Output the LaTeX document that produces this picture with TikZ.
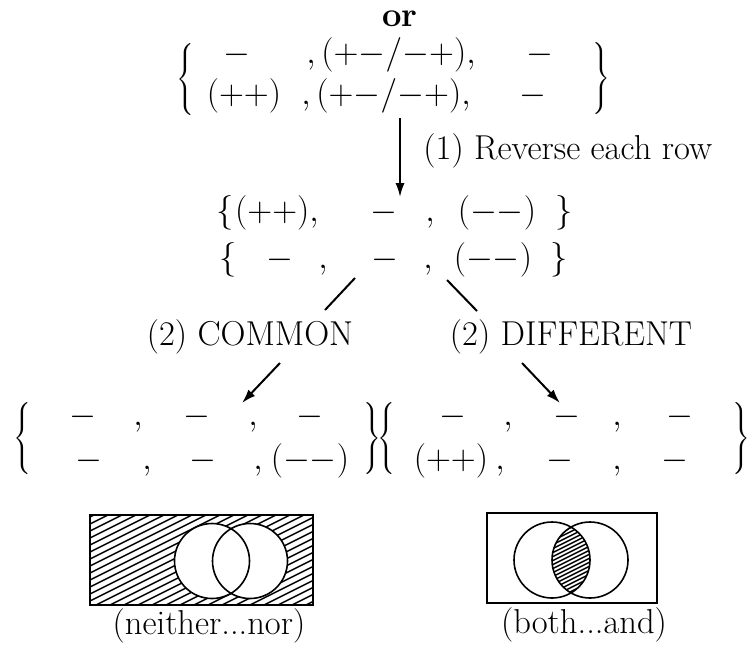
\documentclass[tikz,border=0pt]{standalone}
\usetikzlibrary{arrows.meta}

\begin{document}
\begin{tikzpicture}[
    x=0.5pt, y=-0.5pt,
    >={Latex[length=7pt,width=4.6pt]},
    font=\fontsize{17.28}{20}\selectfont,
    sym/.style={anchor=base,inner sep=0pt},
    brc/.style={inner sep=0pt},
    lbl/.style={inner sep=0pt},
    conn/.style={line width=1pt},
    venn/.style={line width=0.8pt},
    hatch/.style={line width=0.75pt},
]
\useasboundingbox (0,0) rectangle (747,648);

% ---- the input set
\node[lbl,font=\fontsize{17.28}{20}\selectfont\bfseries] (or) at (400,19) {or};
\node[brc] (top-l) at (187,79) {$\left\{\vrule height 1.35em depth 0.85em width 0pt\right.$};
\node[brc] (top-r) at (600,78) {$\left.\vrule height 1.35em depth 0.85em width 0pt\right\}$};
\foreach \x/\t [count=\i] in {237/{-}, 391/{,({+}{-}/{-}{+}),}, 540/{-}}
    \node[sym] (t1-\i) at (\x,63) {$\t$};
\foreach \x/\t [count=\i] in {244/{(++)}, 386/{,({+}{-}/{-}{+}),}, 533/{-}}
    \node[sym] (t2-\i) at (\x,104) {$\t$};

% ---- step 1
\coordinate (s1a) at (400,118);
\coordinate (s1b) at (400,197);
\draw[conn,->] (s1a) -- (s1b);
\node[lbl,anchor=west] (rev) at (423,151) {(1) Reverse each row};

% ---- reversed rows
\foreach \x/\t [count=\i] in {225/{\{}, 277/{(++),}, 384/{-}, 430/{,}, 497/{(--)}, 564/{\}}}
    \node[sym] (m1-\i) at (\x,221) {$\t$};
\foreach \x/\t [count=\i] in {228/{\{}, 280/{-}, 323/{,}, 385/{-}, 428/{,}, 493/{(--)}, 559/{\}}}
    \node[sym] (m2-\i) at (\x,268) {$\t$};

% ---- step 2
\coordinate (cl1) at (355,278); \coordinate (cl2) at (325,310);
\coordinate (cr1) at (447,280); \coordinate (cr2) at (477,311);
\draw[conn] (cl1) -- (cl2);
\draw[conn] (cr1) -- (cr2);
\node[lbl] (common) at (250,337) {(2) COMMON};
\node[lbl] (diff) at (571,337) {(2) DIFFERENT};
\coordinate (al1) at (280,363); \coordinate (al2) at (242,403);
\coordinate (ar1) at (522,363); \coordinate (ar2) at (560,403);
\draw[conn,->] (al1) -- (al2);
\draw[conn,->] (ar1) -- (ar2);

% ---- result sets
\node[brc] (lft-l) at (24,438) {$\left\{\vrule height 1.35em depth 0.85em width 0pt\right.$};
\node[brc] (lft-r) at (371,438) {$\left.\vrule height 1.35em depth 0.85em width 0pt\right\}$};
\foreach \x/\t [count=\i] in {83/{-}, 138/{,}, 197/{-}, 253/{,}, 310/{-}}
    \node[sym] (l1-\i) at (\x,425) {$\t$};
\foreach \x/\t [count=\i] in {89/{-}, 147/{,}, 203/{-}, 258/{,}, 310/{(--)}}
    \node[sym] (l2-\i) at (\x,469) {$\t$};
\node[brc] (rgt-l) at (388,438) {$\left\{\vrule height 1.35em depth 0.85em width 0pt\right.$};
\node[brc] (rgt-r) at (740,438) {$\left.\vrule height 1.35em depth 0.85em width 0pt\right\}$};
\foreach \x/\t [count=\i] in {453/{-}, 508/{,}, 567/{-}, 617/{,}, 680/{-}}
    \node[sym] (r1-\i) at (\x,425) {$\t$};
\foreach \x/\t [count=\i] in {451/{(++)}, 500/{,}, 560/{-}, 617/{,}, 675/{-}}
    \node[sym] (r2-\i) at (\x,469) {$\t$};

% ---- Venn diagrams
% neither...nor: everything outside both circles
\begin{scope}
    \clip (90,515) rectangle (313,605);
    \foreach \h in {-100,-86,...,320}
        \draw[hatch] (\h,605) -- ++(180,-90);
\end{scope}
\fill[white] (212,561) circle (37.5) (250,561) circle (37.5);
\draw[venn] (90,515) rectangle (313,605);
\draw[venn] (212,561) circle (37.5) (250,561) circle (37.5);
\node[lbl] (neither) at (209,626) {(neither...nor)};

% both...and: the overlap only
\begin{scope}
    \clip (552,560) circle (38);
    \clip (590,560) circle (38);
    \foreach \h in {400,408,...,620}
        \draw[hatch] (\h,605) -- ++(180,-90);
\end{scope}
\draw[venn] (487,513) rectangle (657,603);
\draw[venn] (552,560) circle (38) (590,560) circle (38);
\node[lbl] (both) at (584,625) {(both...and)};
\end{tikzpicture}
\end{document}
